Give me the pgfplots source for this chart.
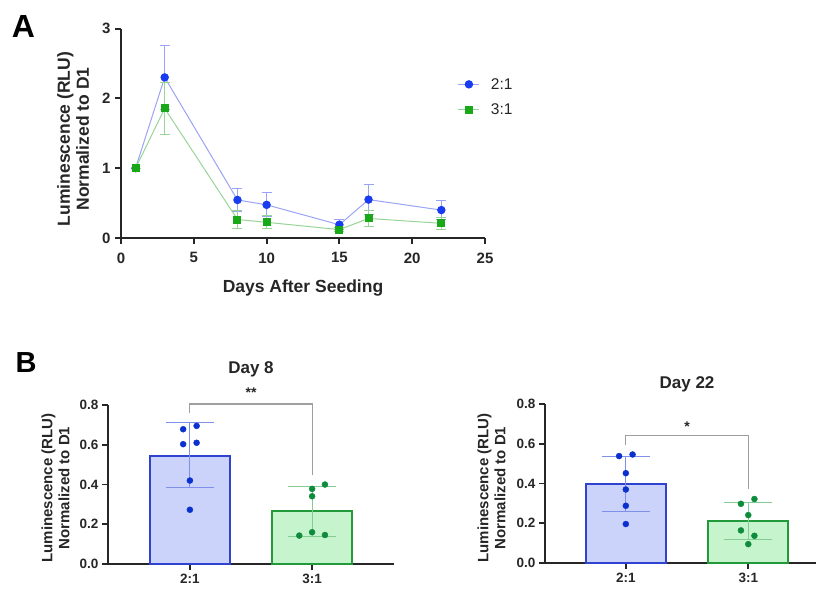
\documentclass[border=0pt]{standalone}
\usepackage{pgfplots}
\pgfplotsset{compat=1.18}
\usepackage{fontspec}
\setmainfont{Liberation Sans}
\definecolor{mblue}{HTML}{1A3CF0}
\definecolor{lblue}{HTML}{9AA3F5}
\definecolor{mgreen}{HTML}{18A818}
\definecolor{lgreen}{HTML}{98D498}
\definecolor{barblue}{HTML}{CCD3FA}
\definecolor{edgeblue}{HTML}{3043D0}
\definecolor{bargreen}{HTML}{C6F4CC}
\definecolor{edgegreen}{HTML}{229A3A}
\definecolor{dotblue}{HTML}{0A30D0}
\definecolor{dotgreen}{HTML}{0E8C3C}
\definecolor{ebblue}{HTML}{8090E8}
\definecolor{ebgreen}{HTML}{84CC94}
\definecolor{txt}{HTML}{262626}
\pgfplotsset{
  panelB/.style={
    anchor=south west, scale only axis, clip=false,
    ymin=0, ymax=0.8, ytick={0,0.2,0.4,0.6,0.8},
    xtick={0,1}, xticklabels={2:1,3:1},
    axis lines=left, axis line style={-, line width=1.8pt, color=txt},
    tick style={line width=1.8pt, color=txt}, tick align=outside, major tick length=6pt,
    ticklabel style={font=\fontsize{13.5}{16}\selectfont\bfseries, color=txt},
    /pgf/number format/assume math mode=true,
    yticklabel style={/pgf/number format/fixed, /pgf/number format/fixed zerofill, /pgf/number format/precision=1},
    xticklabel style={yshift=-1pt},
  },
  bluebar/.style={ybar, bar width=80pt, bar shift=0pt, fill=barblue, draw=edgeblue, line width=1.8pt},
  greenbar/.style={ybar, bar width=80pt, bar shift=0pt, fill=bargreen, draw=edgegreen, line width=1.8pt},
  ebplot/.style={draw=none, mark=none, forget plot,
    error bars/.cd, y dir=both, y explicit,
    error bar style={color=#1, line width=1pt},
    error mark options={rotate=90, mark size=24pt, color=#1, line width=1pt}},
}
\begin{document}
\begin{tikzpicture}
\useasboundingbox (0pt,0pt) rectangle (818pt,-590pt);
% ---------------- Panel A ----------------
\begin{axis}[
  at={(121pt,-238pt)}, anchor=south west, scale only axis, clip=false,
  width=364pt, height=209.5pt,
  xmin=0, xmax=25, ymin=0, ymax=3,
  xtick={0,5,...,25}, ytick={0,1,2,3},
  axis lines=left, axis line style={-, line width=2pt, color=txt},
  tick style={line width=2pt, color=txt}, tick align=outside, major tick length=6pt,
  ticklabel style={font=\fontsize{15}{18}\selectfont\bfseries, color=txt},
  xticklabel style={yshift=-5pt},
  yticklabel style={xshift=-1pt},
  /pgf/number format/assume math mode=true,
  legend style={at={(0.925,0.673)}, anchor=west, draw=none, fill=none,
    font=\fontsize{15.5}{18}\selectfont, text=txt, row sep=9pt, inner sep=0pt},
  legend cell align=left,
  legend image code/.code={\draw[#1, mark repeat=2, mark phase=2] plot coordinates {(0pt,0pt) (10.5pt,0pt) (21pt,0pt)}; \path (30pt,0pt);},
]
\addplot[color=lblue, line width=1pt, mark=*, mark size=3.7pt, mark options={draw=mblue, fill=mblue},
  error bars/.cd, y dir=both, y explicit,
  error bar style={color=lblue, line width=1pt},
  error mark options={rotate=90, mark size=5pt, color=lblue, line width=1pt}]
  coordinates {(1,1) +- (0,0) (3,2.30) +- (0,0.455) (8,0.545) +- (0,0.17) (10,0.475) +- (0,0.17)
   (15,0.19) +- (0,0.07) (17,0.55) +- (0,0.22) (22,0.40) +- (0,0.14)};
\addlegendentry{2:1}
\addplot[color=lgreen, line width=1pt, mark=square*, mark size=3.5pt, mark options={draw=mgreen, fill=mgreen},
  error bars/.cd, y dir=both, y explicit,
  error bar style={color=lgreen, line width=1pt},
  error mark options={rotate=90, mark size=5pt, color=lgreen, line width=1pt}]
  coordinates {(1,1) +- (0,0) (3,1.855) +- (0,0.37) (8,0.265) +- (0,0.125) (10,0.225) +- (0,0.095)
   (15,0.12) +- (0,0.03) (17,0.28) +- (0,0.11) (22,0.21) +- (0,0.09)};
\addlegendentry{3:1}
\end{axis}
\node[font=\fontsize{17.5}{20}\selectfont\bfseries, text=txt] at (303pt,-288pt) {Days After Seeding};
\node[rotate=90, align=center, font=\fontsize{17.5}{19}\selectfont\bfseries, text=txt] at (73pt,-139pt) {Luminescence (RLU)\\Normalized to D1};
\node[font=\fontsize{32}{36}\selectfont\bfseries, text=black] at (23.5pt,-26.5pt) {A};
\node[font=\fontsize{29}{33}\selectfont\bfseries, text=black] at (26pt,-362.5pt) {B};
% ---------------- Panel B: Day 8 ----------------
\begin{axis}[panelB, at={(108pt,-564pt)}, width=286pt, height=159pt, xmin=-0.67, xmax=1.67]
\addplot[bluebar] coordinates {(0,0.545)};
\addplot[greenbar] coordinates {(1,0.265)};
\addplot[ebplot=ebblue] coordinates {(0,0.547) +- (0,0.163)};
\addplot[ebplot=ebgreen] coordinates {(1,0.265) +- (0,0.125)};
\addplot[only marks, mark=*, mark size=3pt, color=dotblue] coordinates {
 (-0.055,0.678) (0.055,0.695) (-0.055,0.603) (0.055,0.61) (0,0.42) (0,0.273)};
\addplot[only marks, mark=*, mark size=3pt, color=dotgreen] coordinates {
 (1,0.378) (1.105,0.40) (1,0.341) (0.895,0.143) (1,0.16) (1.105,0.146)};
\addplot[color=gray!75, line width=1.2pt] coordinates {(0,0.76) (0,0.805) (1,0.805) (1,0.45)};
\node[font=\fontsize{14}{16}\selectfont\bfseries, text=txt] at (axis cs:0.5,0.86) {**};
\node[font=\fontsize{17}{20}\selectfont\bfseries, text=txt] at (axis cs:0.5,0.98) {Day 8};
\end{axis}
\node[rotate=90, align=center, font=\fontsize{15}{17}\selectfont\bfseries, text=txt] at (55.5pt,-488pt) {Luminescence (RLU)\\Normalized to D1};
% ---------------- Panel B: Day 22 ----------------
\begin{axis}[panelB, at={(545pt,-563pt)}, width=271pt, height=159pt, xmin=-0.66, xmax=1.553]
\addplot[bluebar] coordinates {(0,0.397)};
\addplot[greenbar] coordinates {(1,0.21)};
\addplot[ebplot=ebblue] coordinates {(0,0.398) +- (0,0.14)};
\addplot[ebplot=ebgreen] coordinates {(1,0.212) +- (0,0.092)};
\addplot[only marks, mark=*, mark size=3pt, color=dotblue] coordinates {
 (-0.055,0.538) (0.055,0.546) (0,0.452) (0,0.37) (0,0.288) (0,0.196)};
\addplot[only marks, mark=*, mark size=3pt, color=dotgreen] coordinates {
 (0.94,0.298) (1.05,0.322) (1,0.241) (0.94,0.164) (1.05,0.137) (1,0.095)};
\addplot[color=gray!75, line width=1.2pt] coordinates {(0,0.595) (0,0.64) (1,0.64) (1,0.37)};
\node[font=\fontsize{14}{16}\selectfont\bfseries, text=txt] at (axis cs:0.5,0.685) {*};
\node[font=\fontsize{17}{20}\selectfont\bfseries, text=txt] at (axis cs:0.5,0.90) {Day 22};
\end{axis}
\node[rotate=90, align=center, font=\fontsize{15}{17}\selectfont\bfseries, text=txt] at (491.5pt,-488pt) {Luminescence (RLU)\\Normalized to D1};
\end{tikzpicture}
\end{document}
